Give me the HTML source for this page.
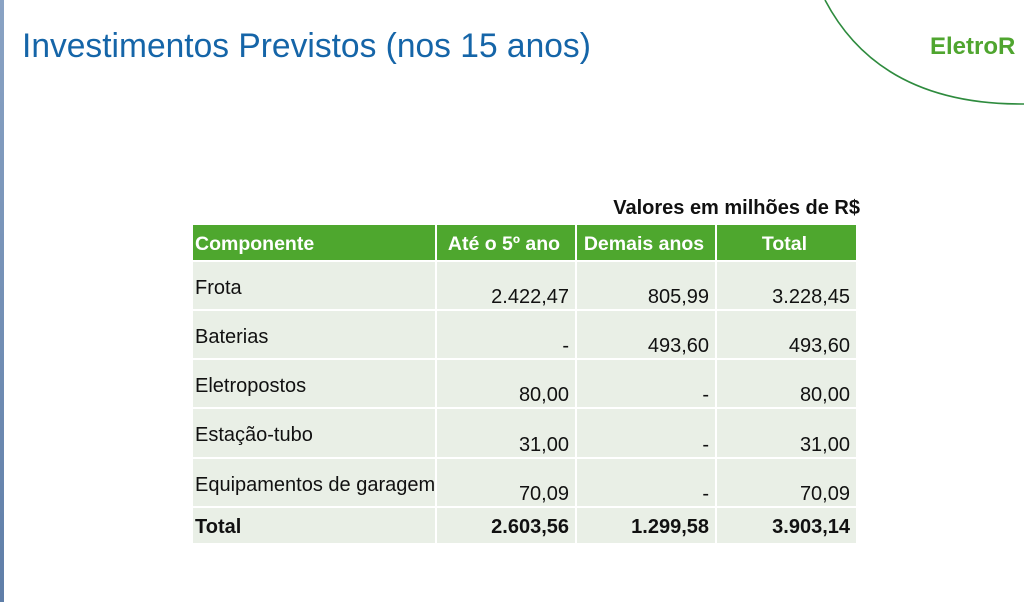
<!DOCTYPE html>
<html><head><meta charset="utf-8"><style>
html,body{margin:0;padding:0}
body{width:1024px;height:602px;position:relative;overflow:hidden;background:#fff;font-family:"Liberation Sans",sans-serif}
.strip{position:absolute;left:0;top:0;width:4px;height:602px;background:linear-gradient(#8aa3c4,#5f7ea8)}
.title{position:absolute;left:22px;top:27px;font-size:34px;color:#1565a8;white-space:nowrap;transform:scaleX(0.987);transform-origin:left}
.brand{position:absolute;left:930px;top:33px;font-size:24px;font-weight:bold;color:#4fa52f;white-space:nowrap}
.note{position:absolute;right:164px;top:197px;font-size:20px;font-weight:bold;color:#111;white-space:nowrap}
.cell{position:absolute;box-sizing:border-box;font-size:20px;color:#111;white-space:nowrap}
</style></head><body>
<div class="strip"></div>
<svg style="position:absolute;left:0;top:0" width="1024" height="602">
<path d="M825,0 Q880,105 1024,104" fill="none" stroke="#2e8b3e" stroke-width="1.6"/>
</svg>
<div class="title">Investimentos Previstos (nos 15 anos)</div>
<div class="brand">EletroR</div>
<div class="note">Valores em milhões de R$</div>
<div id="tbl"></div>
<script>
const headers=["Componente","Até o 5º ano","Demais anos","Total"];
const components=["Frota","Baterias","Eletropostos","Estação-tubo","Equipamentos de garagem"];
const firstYears=["2.422,47","-","80,00","31,00","70,09"];
const otherYears=["805,99","493,60","-","-","-"];
const totals=["3.228,45","493,60","80,00","31,00","70,09"];
const totalRow=["Total","2.603,56","1.299,58","3.903,14"];
const tbl=document.getElementById('tbl');
const cols=[193,437,577,717,856];
const rowsY=[225,262,311,360,409,459,508,545];
function cell(ci,ri,text,opts){
  const d=document.createElement('div');
  d.className='cell';
  const x=cols[ci],w=cols[ci+1]-x,y=rowsY[ri],h=rowsY[ri+1]-y;
  d.style.left=x+'px';d.style.top=y+'px';d.style.width=w+'px';d.style.height=h+'px';
  d.style.background=opts.bg;
  d.style.borderRight=ci<3?'2px solid #fff':'none';
  d.style.borderBottom='2px solid #fff';
  d.style.fontWeight=opts.bold?'bold':'normal';
  d.style.fontSize=(opts.fs||20)+'px';
  d.style.color=opts.color||'#111';
  d.style.paddingLeft='2px';d.style.paddingRight='6px';
  d.style.display='flex';
  d.style.justifyContent=opts.align;
  d.style.alignItems=opts.valign;
  d.style.paddingTop=opts.pt||'0';d.style.paddingBottom=opts.pb||'0';
  d.textContent=text;
  tbl.appendChild(d);
  return d;
}
headers.forEach((h,i)=>{
  const d=cell(i,0,h,{bg:'#4ea72e',bold:true,color:'#fff',fs:19.5,align:i==0?'flex-start':'center',valign:'center',pt:'4px'});
  
  
});
components.forEach((c,r)=>{
  const vals=[c,firstYears[r],otherYears[r],totals[r]];
  vals.forEach((v,i)=>{
    const d=cell(i,r+1,v,{bg:'#e9efe6',align:i==0?'flex-start':'flex-end',valign:i==0?'flex-start':'flex-end',pt:i==0?'15px':'0',pb:'0'});
    
    
  });
});
totalRow.forEach((v,i)=>{
  const d=cell(i,6,v,{bg:'#e9efe6',bold:true,align:i==0?'flex-start':'flex-end',valign:'center',pt:'3px'});
  
  
});
</script>
</body></html>
